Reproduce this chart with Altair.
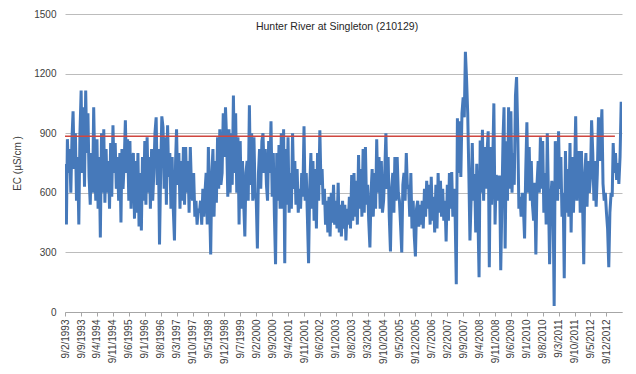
import altair as alt
import pandas as pd

# Electrical conductivity (uS/cm), two readings per month (day 9 and day 24)
y1993 = [745, 440, 870, 700, 820, 600, 870, 1010, 720, 900, 560, 780, 440, 900, 1115, 700, 1030, 630, 1115, 800, 1000, 680]
y1994 = [540, 800, 600, 1030, 760, 560, 870, 520, 780, 375, 900, 600, 920, 550, 820, 600, 760, 520, 850, 580, 940, 700, 850, 620]
y1995 = [780, 560, 800, 450, 820, 620, 760, 965, 700, 870, 560, 860, 520, 760, 800, 470, 760, 500, 800, 430, 700, 410, 780, 560]
y1996 = [860, 540, 880, 600, 780, 520, 820, 560, 700, 900, 980, 640, 820, 340, 720, 985, 930, 620, 880, 540, 940, 680, 800, 520]
y1997 = [780, 520, 360, 760, 920, 640, 800, 520, 760, 560, 830, 540, 830, 600, 760, 500, 830, 640, 560, 700, 480, 560, 440, 520]
y1998 = [500, 560, 440, 620, 480, 600, 700, 440, 830, 560, 290, 700, 820, 480, 760, 550, 880, 620, 920, 640, 700, 1000, 780, 1030]
y1999 = [860, 580, 920, 600, 900, 640, 1090, 700, 1000, 600, 880, 440, 860, 520, 760, 560, 380, 700, 760, 560, 1040, 640, 900, 560]
y2000 = [880, 600, 560, 320, 700, 820, 620, 860, 900, 700, 820, 640, 560, 860, 700, 960, 580, 800, 480, 240, 800, 560, 840, 520]
y2001 = [900, 520, 920, 245, 820, 540, 880, 500, 700, 520, 900, 620, 760, 540, 720, 500, 620, 520, 700, 580, 935, 560, 700, 480]
y2002 = [245, 620, 800, 520, 760, 460, 720, 420, 800, 560, 915, 640, 720, 540, 620, 440, 560, 400, 580, 380, 600, 450, 640, 440]
y2003 = [560, 420, 650, 400, 540, 380, 560, 420, 540, 360, 520, 440, 580, 420, 690, 460, 700, 480, 660, 440, 790, 520, 720, 480]
y2004 = [820, 500, 830, 540, 640, 460, 325, 600, 720, 480, 700, 520, 870, 600, 780, 520, 760, 500, 560, 700, 900, 620, 780, 480]
y2005 = [305, 620, 700, 500, 780, 560, 780, 600, 560, 440, 300, 640, 700, 560, 800, 620, 640, 480, 700, 420, 560, 380, 280, 520]
y2006 = [560, 430, 540, 440, 560, 420, 620, 480, 660, 520, 640, 440, 680, 460, 580, 400, 640, 420, 700, 500, 660, 480, 620, 460]
y2007 = [560, 355, 640, 460, 700, 520, 705, 480, 620, 500, 140, 975, 700, 960, 680, 1000, 1080, 980, 1310, 1180, 1000, 700, 360, 560]
y2008 = [850, 560, 695, 400, 746, 500, 175, 863, 600, 917, 560, 830, 620, 800, 910, 225, 830, 540, 760, 1050, 440, 690, 560, 680]
y2009 = [680, 210, 560, 880, 1030, 320, 860, 560, 1030, 620, 1010, 600, 800, 640, 1090, 1183, 900, 520, 580, 480, 600, 520, 370, 700]
y2010 = [955, 600, 830, 560, 760, 544, 460, 650, 290, 640, 760, 600, 880, 620, 860, 500, 700, 440, 900, 600, 240, 560, 660, 590]
y2011 = [30, 860, 700, 560, 910, 620, 780, 480, 600, 170, 810, 500, 720, 480, 850, 400, 780, 500, 700, 985, 560, 780, 810, 500]
y2012 = [810, 560, 240, 700, 800, 530, 760, 600, 680, 965, 800, 560, 760, 530, 700, 980, 760, 880, 1020, 645, 560, 600, 500, 420]
y2013 = [225, 500, 600, 580, 850, 700, 800, 665, 750, 645, 780, 1058]

guideline_value = 885
guideline_dates = ["1993-02-05T00:00:00", "2013-04-01T00:00:00"]

tick_labels = ["9/2/1993", "9/9/1993", "9/4/1994", "9/11/1994", "9/6/1995", "9/1/1996", "9/8/1996",
               "9/3/1997", "9/10/1997", "9/5/1998", "9/12/1998", "9/7/1999", "9/2/2000", "9/9/2000",
               "9/4/2001", "9/11/2001", "9/6/2002", "9/1/2003", "9/8/2003", "9/3/2004", "9/10/2004",
               "9/5/2005", "9/12/2005", "9/7/2006", "9/2/2007", "9/9/2007", "9/4/2008", "9/11/2008",
               "9/6/2009", "9/1/2010", "9/8/2010", "9/3/2011", "9/10/2011", "9/5/2012", "9/12/2012"]

y_ticks = [0, 300, 600, 900, 1200, 1500]
title_text = "Hunter River at Singleton (210129)"
y_title = "EC (µS/cm )"

years = [(1993, y1993), (1994, y1994), (1995, y1995), (1996, y1996), (1997, y1997), (1998, y1998),
         (1999, y1999), (2000, y2000), (2001, y2001), (2002, y2002), (2003, y2003), (2004, y2004),
         (2005, y2005), (2006, y2006), (2007, y2007), (2008, y2008), (2009, y2009), (2010, y2010),
         (2011, y2011), (2012, y2012), (2013, y2013)]

rows = []
for year, vals in years:
    start_month = 2 if year == 1993 else 1
    for i, v in enumerate(vals):
        month = start_month + i // 2
        day = 9 if i % 2 == 0 else 24
        rows.append({"date": f"{year}-{month:02d}-{day:02d}T00:00:00", "ec": v})
df = pd.DataFrame(rows)

guide_df = pd.DataFrame({"date": guideline_dates, "ec": [guideline_value] * len(guideline_dates)})


def to_dt(s):
    d, m, y = (int(p) for p in s.split("/"))
    return alt.DateTime(year=y, month=m, date=d)


tick_values = [to_dt(s) for s in tick_labels]
FONT = "Liberation Sans"

x_scale = alt.Scale(domain=[alt.DateTime(year=1993, month=2, date=5), alt.DateTime(year=2013, month=7, date=5)])
y_scale = alt.Scale(domain=[0, 1500], nice=False)

x_axis = alt.Axis(values=tick_values, format="%-d/%-m/%Y", labelAngle=270, grid=False,
                  domainColor="#a6a6a6", tickColor="#a6a6a6", tickSize=4, labelPadding=3,
                  labelFontSize=10, labelFont=FONT, labelColor="#404040", labelOverlap=False,
                  labelSeparation=0, labelFlush=False, labelBound=False, title=None)
y_axis = alt.Axis(values=y_ticks, format="d", grid=True, gridColor="#bcbcbc", domain=False, ticks=False,
                  labelPadding=9, labelFontSize=10, labelFont=FONT, labelColor="#404040",
                  title=y_title, titleFont=FONT, titleFontSize=10, titleFontWeight="normal",
                  titleColor="#404040", titleAngle=270, titleX=-48, titleY=149,
                  titleAlign="center", titleBaseline="middle")

line = alt.Chart(df).mark_line(color="#4679ba", strokeWidth=3, clip=True).encode(
    x=alt.X("date:T", scale=x_scale, axis=x_axis),
    y=alt.Y("ec:Q", scale=y_scale, axis=y_axis),
)

guide = alt.Chart(guide_df).mark_line(color="#d0463f", strokeWidth=1.6, clip=True).encode(
    x=alt.X("date:T", scale=x_scale, axis=x_axis),
    y=alt.Y("ec:Q", scale=y_scale, axis=y_axis),
)

title = alt.Chart(pd.DataFrame({"t": [title_text]})).mark_text(
    font=FONT, fontSize=10.5, color="#262626", align="center", baseline="middle"
).encode(text="t:N", x=alt.value(272), y=alt.value(13))

chart = alt.layer(line, guide, title).properties(
    width=557, height=298,
    background="white",
    autosize=alt.AutoSizeParams(type="none"),
    padding={"left": 57, "top": 6, "right": 6, "bottom": 54},
).configure_view(stroke=None)

chart.save("out.html", embed_options={"renderer": "svg", "actions": False})
